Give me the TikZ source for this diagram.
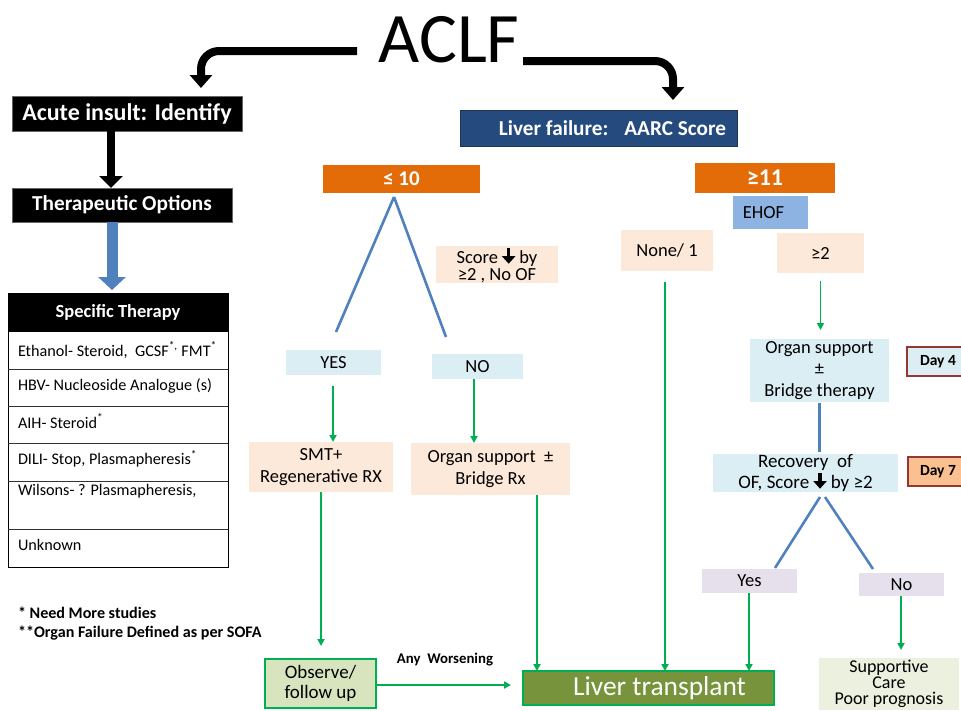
\documentclass[tikz,border=0pt]{standalone}
\usepackage{fontspec}
\setmainfont{Carlito}
\usetikzlibrary{arrows.meta}
\definecolor{navyc}{HTML}{254B7E}
\definecolor{orangec}{HTML}{E36C09}
\definecolor{ehofc}{HTML}{8DB3E2}
\definecolor{peachc}{HTML}{FDE9D9}
\definecolor{lbluec}{HTML}{DBEEF4}
\definecolor{lavc}{HTML}{E5E0EC}
\definecolor{greenc}{HTML}{00B050}
\definecolor{obsc}{HTML}{D7E4BD}
\definecolor{olivec}{HTML}{77933C}
\definecolor{suppc}{HTML}{EBF1DE}
\definecolor{bluelc}{HTML}{4F81BD}
\definecolor{dayredc}{HTML}{953735}
\definecolor{day7c}{HTML}{FAC090}
\newcommand\bx[7]{\node[#6, minimum width={#4-#2}, minimum height={#5-#3}] (#1) at ({(#2+#4)/2},{(#3+#5)/2}) {#7};}
\newcommand\dnar{\tikz[baseline=-1.5pt,x=1pt,y=1pt]{\draw[line width=3.6pt,-{Triangle[width=13pt,length=7.5pt]}] (0,14) -- (0,-1.5);}}
\begin{document}
\begin{tikzpicture}[x=1pt,y=-1pt,
  every node/.style={inner sep=0pt, outer sep=0pt, align=center},
  txt/.style={font=\fontsize{18.5}{21}\selectfont},
  peach/.style={txt, fill=peachc},
  lblue/.style={txt, fill=lbluec},
  lav/.style={txt, fill=lavc},
  blackbox/.style={fill=black, draw=black!60, line width=0.6pt, text=white, font=\bfseries\fontsize{24}{28}\selectfont},
  orangebox/.style={fill=orangec, text=white, font=\bfseries\fontsize{21}{24}\selectfont},
  daybox/.style={draw=dayredc, line width=1.2pt, font=\bfseries\fontsize{15.5}{18}\selectfont},
  garrow/.style={draw=greenc, line width=1.8pt, -{Triangle[width=7pt,length=7pt]}},
  bline/.style={draw=bluelc, line width=2.6pt},
  bent/.style={draw=black, line width=8pt, rounded corners=18pt, -{Triangle[width=22pt,length=13pt]}},
  tbl/.style={font=\fontsize{16.2}{19}\selectfont, anchor=west},
  foot/.style={font=\bfseries\fontsize{16.1}{18}\selectfont, anchor=west}
]
\clip (0,0) rectangle (961,710);
\fill[white] (0,0) rectangle (961,710);

% title
\node[anchor=base, font=\fontsize{71}{80}\selectfont] (title) at (449,62) {ACLF};
\coordinate (la0) at (357,51);
\coordinate (la1) at (201,88);
\coordinate (ra0) at (523,61);
\coordinate (ra1) at (673,100);
\draw[bent] (la0) -| (la1);
\draw[bent] (ra0) -| (ra1);

% left column
\bx{acute}{12}{96}{242}{131}{blackbox}{Acute insult: Identify}
\bx{thera}{12}{188}{232}{222}{blackbox, font=\bfseries\fontsize{21.3}{24}\selectfont}{Therapeutic Options}
\draw[line width=8pt, -{Triangle[width=23pt,length=12pt]}] (acute.south -| 111,0) -- (thera.north -| 111,0);
\coordinate (spectop) at (112,290);
\draw[draw=bluelc, line width=11pt, -{Triangle[width=27pt,length=13pt]}] (thera.south -| 112,0) -- (spectop);

% table
\bx{sthead}{8}{293}{228}{331.7}{fill=black, text=white, font=\bfseries\fontsize{18.5}{22}\selectfont}{Specific Therapy}
\draw[line width=1pt] (8,293) rectangle (228,567);
\foreach \yy in {369,406.7,443.3,481,529} \draw[line width=0.9pt, black!80] (8,\yy) -- (228,\yy);
\node[tbl] (r1) at (18,350) {Ethanol- Steroid,~ GCSF\textsuperscript{*,} FMT\textsuperscript{*}};
\node[tbl] (r2) at (18,386) {HBV- Nucleoside Analogue (s)};
\node[tbl] (r3) at (18,421) {AIH- Steroid\textsuperscript{*}};
\node[tbl] (r4) at (18,459) {DILI- Stop, Plasmapheresis\textsuperscript{*}};
\node[tbl] (r5) at (18,491) {Wilsons- ? Plasmapheresis,};
\node[tbl] (r6) at (18,545) {Unknown};
\node[foot] (f1) at (18,612.7) {* Need More studies};
\node[foot] (f2) at (18,633) {**Organ Failure Defined as per SOFA};

% right part
\bx{lf}{460}{110}{737}{146}{fill=navyc, draw=navyc!70!black, line width=0.6pt, text=white, font=\bfseries\fontsize{21.2}{24}\selectfont}{\hspace*{28pt}Liver failure:~~ AARC Score}
\bx{le10}{323}{165}{480}{193}{orangebox}{≤ 10}
\bx{ge11}{695}{163}{835}{193}{orangebox, font=\bfseries\fontsize{24}{26}\selectfont}{≥11}
\bx{ehof}{733}{196}{808}{229}{txt, fill=ehofc}{EHOF\hspace*{14pt}}
\bx{none}{621}{230}{713}{271}{peach}{None/ 1}
\bx{ge2}{777}{233}{864}{273}{peach}{≥2}
\bx{score}{436}{247}{558}{282}{peach, font=\fontsize{18.5}{16.5}\selectfont}{Score \dnar\ by\\ ≥2 , No OF}
\bx{yes}{286}{350}{381}{375}{lblue}{YES}
\bx{no}{432}{354}{523}{379}{lblue}{NO}
\bx{smt}{249}{442}{393}{492}{peach, font=\fontsize{18.5}{22}\selectfont}{SMT+\\Regenerative RX}
\bx{orgrx}{411}{443}{570}{495}{peach, font=\fontsize{18.5}{22}\selectfont}{Organ support~~±\\Bridge Rx}
\bx{obs}{265}{659}{376}{708}{fill=obsc, draw=greenc, line width=2pt, font=\fontsize{19}{20}\selectfont}{Observe/\\follow up}
\bx{lt}{523}{671}{774}{705}{fill=olivec, draw=greenc, line width=2pt, text=white, font=\fontsize{27.4}{29}\selectfont}{\hspace*{22pt}Liver transplant}
\node[font=\bfseries\fontsize{14.8}{17}\selectfont] (anyw) at (445,660) {Any~ Worsening};
\bx{os2}{750}{339}{889}{402}{lblue, font=\fontsize{18.5}{21.5}\selectfont}{Organ support\\±\\Bridge therapy}
\bx{day4}{907}{347}{969}{376}{daybox, fill=lbluec}{Day 4}
\bx{recov}{713}{454}{898}{492}{lblue, font=\fontsize{19}{16.5}\selectfont}{Recovery~ of\\OF, Score \dnar\ by ≥2}
\bx{day7}{908}{457}{968}{486}{daybox, fill=day7c}{Day 7}
\bx{yesb}{702}{569}{797}{593}{lav}{Yes}
\bx{nob}{859}{573}{944}{596}{lav}{No}
\bx{supp}{819}{658}{959}{710}{fill=suppc, font=\fontsize{18}{16.2}\selectfont}{Supportive\\Care\\Poor prognosis}

% blue branch lines
\draw[bline] ([xshift=-7.5pt]le10.south) ++(0,4) -- ([xshift=2.5pt,yshift=18pt]yes.north);
\draw[bline] ([xshift=-7.5pt]le10.south) ++(0,4) -- ([xshift=-31.5pt,yshift=17pt]no.north);
\draw[bline] (os2.south) ++(0,1) -- ([yshift=2pt]os2.south |- recov.north);
\draw[bline] ([xshift=14.5pt]recov.south) ++(0,5) -- ([xshift=25.5pt,yshift=1pt]yesb.north);
\draw[bline] ([xshift=19.5pt]recov.south) ++(0,5) -- ([xshift=-28.5pt,yshift=4pt]nob.north);

% green arrows
\draw[garrow, shorten <=11pt] ([xshift=-0.5pt]yes.south) -- ([xshift=-0.5pt]yes.south |- smt.north);
\draw[garrow] ([xshift=-3.5pt]no.south) -- ([xshift=-3.5pt]no.south |- orgrx.north);
\draw[garrow, shorten >=13pt] (smt.south) -- (smt.south |- obs.north);
\draw[garrow, shorten >=12pt] ([yshift=-1.5pt]obs.east) -- ([yshift=-1.5pt]obs.east -| lt.west);
\draw[garrow] ([xshift=46.5pt]orgrx.south) -- ([xshift=46.5pt]orgrx.south |- lt.north);
\draw[garrow, shorten <=11pt] ([xshift=-2pt]none.south) -- ([xshift=-2pt]none.south |- lt.north);
\draw[garrow, shorten <=8pt, shorten >=9pt] (ge2.south) -- (ge2.south |- os2.north);
\draw[garrow] ([xshift=-0.5pt]yesb.south) -- ([xshift=-0.5pt]yesb.south |- lt.north);
\draw[garrow, shorten >=8pt] ([xshift=-0.5pt]nob.south) -- ([xshift=-0.5pt]nob.south |- supp.north);
\end{tikzpicture}
\end{document}
